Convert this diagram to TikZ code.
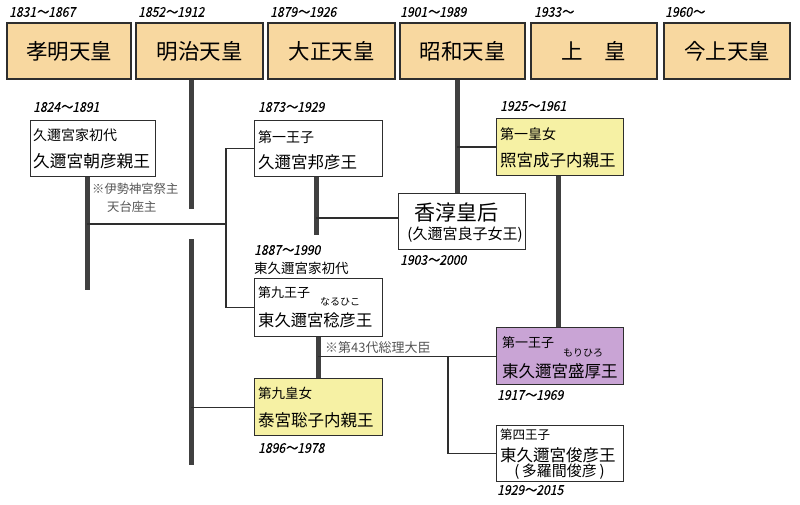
\documentclass[tikz,border=0pt]{standalone}
\usepackage{fontspec}
\setmainfont{Noto Sans CJK JP}
\newfontfamily\yrf[FakeSlant=0.2,FakeStretch=0.9,FakeBold=0.3]{Noto Sans CJK JP}
\definecolor{topfill}{HTML}{F8D8A0}
\definecolor{yelfill}{HTML}{F6F1A4}
\definecolor{purfill}{HTML}{C9A4D5}
\definecolor{linec}{HTML}{2E2E2E}
\definecolor{barc}{HTML}{404040}
\definecolor{notec}{HTML}{555555}
\begin{document}
\begin{tikzpicture}[x=1pt,y=-1pt,
  topbox/.style={draw=linec,line width=1.5pt,fill=topfill,minimum height=56pt,inner sep=0pt,font=\fontsize{21.5}{22}\selectfont},
  pbox/.style={draw=linec,line width=1.3pt,fill=white,inner sep=0pt,anchor=north west},
  yr/.style={font=\yrf\fontsize{13.5}{14}\selectfont,anchor=west,inner sep=0pt,text=black},
  lbl/.style={anchor=west,inner sep=0pt,text=black},
  note/.style={anchor=west,inner sep=0pt,text=notec,font=\fontsize{12.3}{13}\selectfont},
  thickl/.style={draw=barc,line width=5pt},
  thinl/.style={draw=linec,line width=1.3pt}]
\useasboundingbox (0,0) rectangle (800,505);
\fill[white] (0,0) rectangle (800,505);

% emperors
\node[topbox,minimum width=124pt] (komei) at (69,51) {孝明天皇};
\node[topbox,minimum width=127pt] (meiji) at (199.5,51) {明治天皇};
\node[topbox,minimum width=127pt] (taisho) at (331.5,51) {大正天皇};
\node[topbox,minimum width=125pt] (showa) at (462.5,51) {昭和天皇};
\node[topbox,minimum width=126pt] (jokou) at (594,51) {上　皇};
\node[topbox,minimum width=126pt] (kinjo) at (727,51) {今上天皇};

\node[yr] (y1) at (9,12) {1831～1867};
\node[yr] (y2) at (138,12) {1852～1912};
\node[yr] (y3) at (270,12) {1879～1926};
\node[yr] (y4) at (400,12) {1901～1989};
\node[yr] (y5) at (534,12) {1933～};
\node[yr] (y6) at (665,12) {1960～};

% person boxes
\node[pbox,minimum width=125pt,minimum height=56pt] (asahiko) at (30,120) {};
\node[pbox,minimum width=128pt,minimum height=56pt] (kuniyoshi) at (254,120) {};
\node[pbox,minimum width=127pt,minimum height=56pt] (kojun) at (398,193) {};
\node[pbox,minimum width=127pt,minimum height=57pt,fill=yelfill] (teru) at (496,118) {};
\node[pbox,minimum width=128pt,minimum height=58pt] (naruhiko) at (254,278) {};
\node[pbox,minimum width=127pt,minimum height=57pt,fill=purfill] (morihiro) at (496,327) {};
\node[pbox,minimum width=128pt,minimum height=57pt,fill=yelfill] (yasu) at (254,378) {};
\node[pbox,minimum width=127pt,minimum height=56pt] (toshihiko) at (496,425) {};

% texts
\node[lbl,font=\fontsize{14}{14}\selectfont] (t1a) at (33,135) {久邇宮家初代};
\node[lbl,font=\fontsize{16.7}{17}\selectfont] (t1b) at (33,161) {久邇宮朝彦親王};
\node[yr] (ya) at (33,107) {1824～1891};

\node[lbl,font=\fontsize{14}{14}\selectfont] (t2a) at (258,137) {第一王子};
\node[lbl,font=\fontsize{16.5}{17}\selectfont] (t2b) at (258,162) {久邇宮邦彦王};
\node[yr] (yb) at (258,107) {1873～1929};

\node[inner sep=0pt,font=\fontsize{21}{21}\selectfont] (t3a) at (456.5,213) {香淳皇后};
\node[inner sep=0pt,font=\fontsize{15}{15}\selectfont] (t3b) at (465,235) {(久邇宮良子女王)};
\node[yr] (yc) at (400,260) {1903～2000};

\node[lbl,font=\fontsize{14}{14}\selectfont] (t4a) at (500,134) {第一皇女};
\node[lbl,font=\fontsize{16.5}{17}\selectfont] (t4b) at (500,160) {照宮成子内親王};
\node[yr] (yd) at (500,106) {1925～1961};

\node[yr] (ye) at (254,250) {1887～1990};
\node[lbl,font=\fontsize{13.5}{14}\selectfont] (t5z) at (254,268) {東久邇宮家初代};
\node[lbl,font=\fontsize{13}{13}\selectfont] (t5a) at (258,293) {第九王子};
\node[lbl,font=\fontsize{10}{10}\selectfont] (t5r) at (320,302) {なるひこ};
\node[lbl,font=\fontsize{16.3}{17}\selectfont] (t5b) at (258,320) {東久邇宮稔彦王};

\node[lbl,font=\fontsize{13}{13}\selectfont] (t6a) at (502,343) {第一王子};
\node[lbl,font=\fontsize{10}{10}\selectfont] (t6r) at (563,353) {もりひろ};
\node[lbl,font=\fontsize{16.5}{17}\selectfont] (t6b) at (502,371) {東久邇宮盛厚王};
\node[yr] (yf) at (497,395) {1917～1969};

\node[lbl,font=\fontsize{13.5}{14}\selectfont] (t7a) at (258,393) {第九皇女};
\node[lbl,font=\fontsize{16.5}{17}\selectfont] (t7b) at (258,420) {泰宮聡子内親王};
\node[yr] (yg) at (258,448) {1896～1978};

\node[lbl,font=\fontsize{12.5}{13}\selectfont] (t8a) at (500,435) {第四王子};
\node[lbl,font=\fontsize{16.5}{17}\selectfont] (t8b) at (500,455) {東久邇宮俊彦王};
\node[inner sep=0pt,font=\fontsize{15}{15}\selectfont] (t8c) at (559.5,472) {(\,多羅間俊彦\,)};
\node[yr] (yh) at (497,490) {1929～2015};

\node[note] (n1) at (92,189) {※伊勢神宮祭主};
\node[note] (n2) at (107,207) {天台座主};
\node[note,font=\fontsize{13}{13}\selectfont] (n3) at (325,348) {※第43代総理大臣};

% junction coordinates
\coordinate (m1) at (191,209);
\coordinate (m2) at (191,239);
\coordinate (m3) at (191,465);
\coordinate (a1) at (87,290);
\coordinate (j1) at (87,224);
\coordinate (j2) at (226,224);
\coordinate (s1) at (457,0);
\coordinate (k1) at (316,235);
\coordinate (k2) at (316,218);
\coordinate (r1) at (318,0);
\coordinate (h1) at (558,0);
\coordinate (b1) at (448,0);

% thick bars
\draw[thickl] (meiji.south -| m1) -- (m1);
\draw[thickl] (m2) -- (m3);
\draw[thickl] (asahiko.south -| a1) -- (a1);
\draw[thickl] (showa.south -| s1) -- (kojun.north -| s1);
\draw[thickl] (kuniyoshi.south -| k1) -- (k1);
\draw[thickl] (naruhiko.south -| r1) -- (yasu.north -| r1);
\draw[thickl] (teru.south -| h1) -- (morihiro.north -| h1);

% thin connectors
\draw[thinl] (j1) -- (j2);
\draw[thinl] (kuniyoshi.west) -| (naruhiko.west -| j2) -- (naruhiko.west);
\draw[thinl] (yasu.west -| m2) -- (yasu.west);
\draw[thinl] (k2) -- (kojun.west |- k2);
\draw[thinl] (teru.west -| s1) -- (teru.west);
\draw[thinl] (morihiro.west -| r1) -- (morihiro.west);
\draw[thinl] (morihiro.west -| b1) |- (toshihiko.west);
\end{tikzpicture}
\end{document}
